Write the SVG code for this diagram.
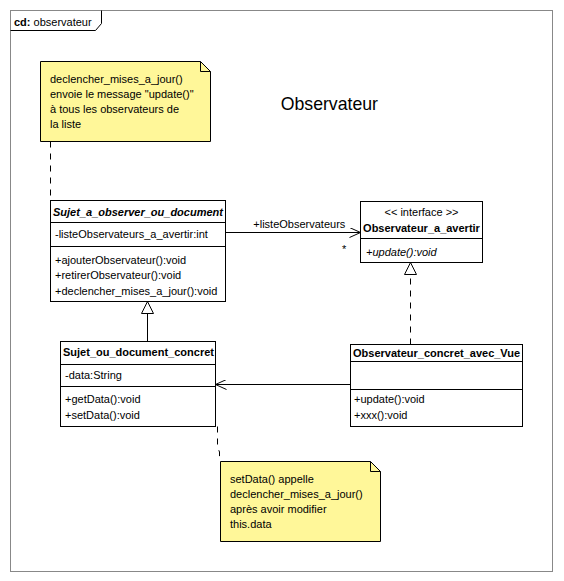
<svg xmlns="http://www.w3.org/2000/svg" width="564" height="581" viewBox="0 0 564 581">
<style>
text{font-family:"Liberation Sans",Arial,sans-serif;font-size:11px;fill:#000}
.b{font-weight:bold}
.i{font-style:italic}
.box{fill:#fff;stroke:#000;stroke-width:1}
.sep{stroke:#000;stroke-width:1}
.note{fill:#fff799;stroke:#000;stroke-width:1}
.fold{fill:none;stroke:#000;stroke-width:1}
.ln{fill:none;stroke:#000;stroke-width:1}
.dash{fill:none;stroke:#000;stroke-width:1;stroke-dasharray:6,6}
</style>
<defs>
<marker id="open" viewBox="0 0 12 10" refX="11.5" refY="5" markerWidth="12" markerHeight="10" markerUnits="userSpaceOnUse" orient="auto">
<path d="M0.5,0 L11.5,5 L0.5,10" fill="none" stroke="#000" stroke-width="1" stroke-dasharray="none"/>
</marker>
<marker id="tri" viewBox="0 0 14 14" refX="13" refY="7" markerWidth="14" markerHeight="14" markerUnits="userSpaceOnUse" orient="auto">
<path d="M1,1 L13,7 L1,13 Z" fill="#fff" stroke="#000" stroke-width="1" stroke-dasharray="none"/>
</marker>
</defs>
<rect width="564" height="581" fill="#fff"/>
<g id="frame">
<rect x="10.5" y="10.5" width="542" height="561" fill="none" stroke="#888" stroke-width="1"/>
<path d="M10.5,30.5 H95.5 L101.5,23.5 V10.5" fill="none" stroke="#000" stroke-width="1"/>
<text x="14" y="25.5"><tspan class="b">cd:</tspan> observateur</text>
</g>
<text id="title" x="280.7" y="110" style="font-size:17.7px">Observateur</text>
<g id="connectors">
<path class="dash" d="M50.5,141.5 V200.5"/>
<path class="ln" d="M225.5,232.5 H360.5" marker-end="url(#open)"/>
<text x="253.3" y="227.5">+listeObservateurs</text>
<text x="342" y="252.5">*</text>
<path class="ln" d="M147.5,341.5 V301.5" marker-end="url(#tri)"/>
<path class="dash" d="M410.5,344.5 V262.5" marker-end="url(#tri)"/>
<path class="ln" d="M350.5,384.5 H215.5" marker-end="url(#open)"/>
<path class="dash" d="M217.5,426.5 V447 L219.5,452 V461.5"/>
</g>
<g id="note1">
<path class="note" d="M40.5,61.5 H200.5 L210.5,71.5 V141.5 H40.5 Z"/>
<path class="fold" d="M200.5,61.5 V71.5 H210.5"/>
<text x="50" y="83">declencher_mises_a_jour()</text>
<text x="50" y="98">envoie le message "update()"</text>
<text x="50" y="113">à tous les observateurs de</text>
<text x="50" y="128">la liste</text>
</g>
<g id="Sujet_a_observer_ou_document">
<rect class="box" x="50.5" y="200.5" width="175" height="101"/>
<line class="sep" x1="50.5" y1="222.5" x2="225.5" y2="222.5"/>
<line class="sep" x1="50.5" y1="246.5" x2="225.5" y2="246.5"/>
<text class="b i" x="53" y="215.5">Sujet_a_observer_ou_document</text>
<text x="55" y="238">-listeObservateurs_a_avertir:int</text>
<text x="55" y="263.5">+ajouterObservateur():void</text>
<text x="55" y="279">+retirerObservateur():void</text>
<text x="55" y="294.5">+declencher_mises_a_jour():void</text>
</g>
<g id="Observateur_a_avertir">
<rect class="box" x="360.5" y="201.5" width="122" height="61"/>
<line class="sep" x1="360.5" y1="238.5" x2="482.5" y2="238.5"/>
<text x="421.5" y="215.5" text-anchor="middle">&lt;&lt; interface &gt;&gt;</text>
<text class="b" x="421.5" y="231.5" text-anchor="middle">Observateur_a_avertir</text>
<text class="i" x="366" y="256">+update():void</text>
</g>
<g id="Sujet_ou_document_concret">
<rect class="box" x="60.5" y="341.5" width="155" height="85"/>
<line class="sep" x1="60.5" y1="364.5" x2="215.5" y2="364.5"/>
<line class="sep" x1="60.5" y1="386.5" x2="215.5" y2="386.5"/>
<text class="b" x="63" y="356">Sujet_ou_document_concret</text>
<text x="65" y="378.5">-data:String</text>
<text x="65" y="402.5">+getData():void</text>
<text x="65" y="418.5">+setData():void</text>
</g>
<g id="Observateur_concret_avec_Vue">
<rect class="box" x="350.5" y="344.5" width="172" height="82"/>
<line class="sep" x1="350.5" y1="361.5" x2="522.5" y2="361.5"/>
<line class="sep" x1="350.5" y1="389.5" x2="522.5" y2="389.5"/>
<text class="b" x="353" y="357">Observateur_concret_avec_Vue</text>
<text x="354" y="403">+update():void</text>
<text x="354" y="418.5">+xxx():void</text>
</g>
<g id="note2">
<path class="note" d="M220.5,461.5 H370.5 L380.5,471.5 V541.5 H220.5 Z"/>
<path class="fold" d="M370.5,461.5 V471.5 H380.5"/>
<text x="230" y="482.5">setData() appelle</text>
<text x="230" y="497.5">declencher_mises_a_jour()</text>
<text x="230" y="512.5">après avoir modifier</text>
<text x="230" y="527.5">this.data</text>
</g>
</svg>
